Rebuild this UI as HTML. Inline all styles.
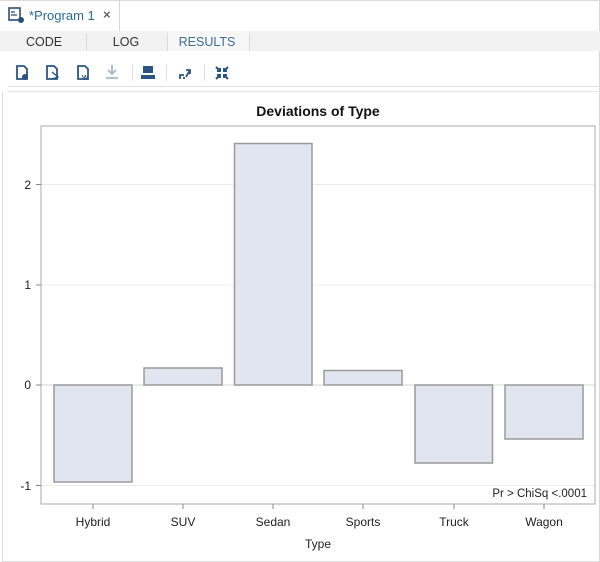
<!DOCTYPE html>
<html><head><meta charset="utf-8"><style>
html,body{margin:0;padding:0;background:#fff;}
svg{display:block;font-family:"Liberation Sans",Arial,sans-serif;}
</style></head><body>
<svg width="600" height="562" viewBox="0 0 600 562" xmlns="http://www.w3.org/2000/svg">
<rect x="0" y="0" width="600" height="562" fill="#fff"/>
<!-- top tab row -->
<line x1="0" y1="0.5" x2="600" y2="0.5" stroke="#dcdcdc"/>
<line x1="119.5" y1="0" x2="119.5" y2="31" stroke="#d6d6d6"/>
<line x1="599.5" y1="0" x2="599.5" y2="562" stroke="#d8d8d8"/>
<!-- tab icon -->
<g fill="none" stroke="#2a4f78" stroke-width="1.6">
<rect x="9" y="8" width="11" height="12"/>
</g>
<circle cx="21" cy="20" r="3" fill="#2a4f78"/>
<path d="M11 12 L15 12 M11 15 L17 15" stroke="#2a4f78" stroke-width="1.2"/>
<text x="29" y="20" font-size="13" fill="#2c6a99">*Program 1</text>
<text x="103" y="19" font-size="13" fill="#666" font-weight="bold">×</text>
<!-- tab bar -->
<rect x="0" y="31" width="600" height="20" fill="#f2f2f2"/>
<rect x="168" y="31" width="81" height="20" fill="#f7f7f7"/>
<line x1="86.5" y1="33" x2="86.5" y2="51" stroke="#dadada"/>
<line x1="167.5" y1="33" x2="167.5" y2="51" stroke="#dadada"/>
<line x1="249.5" y1="33" x2="249.5" y2="51" stroke="#dadada"/>
<text x="44" y="46" font-size="12.5" fill="#333" text-anchor="middle">CODE</text>
<text x="126" y="46" font-size="12.5" fill="#333" text-anchor="middle">LOG</text>
<text x="207" y="46" font-size="12.5" fill="#3d6e96" text-anchor="middle">RESULTS</text>
<!-- toolbar icons -->
<g stroke="#2a5583" stroke-width="1.8" fill="none">
<path d="M17 66 L24 66 L27 69 L27 79 L17 79 Z"/>
<path d="M47 66 L54 66 L57 69 L57 79 L47 79 Z"/>
<path d="M78 66 L85 66 L88 69 L88 79 L78 79 Z"/>
</g>
<circle cx="25" cy="77" r="3" fill="#2a5583"/>
<path d="M52 72 L58 77 L52 79" stroke="#2a5583" stroke-width="1.4" fill="none"/>
<text x="82" y="80" font-size="7" font-weight="bold" fill="#2a5583">W</text>
<g stroke="#a8b8c8" stroke-width="1.8" fill="none">
<path d="M112 65 L112 74 M108 70 L112 74 L116 70 M106 78 L118 78"/>
</g>
<line x1="132.5" y1="65" x2="132.5" y2="81" stroke="#ddd"/>
<rect x="143" y="66" width="10" height="7" fill="#2a5583"/>
<rect x="141" y="75" width="14" height="4" fill="#2a5583"/>
<line x1="166.5" y1="65" x2="166.5" y2="81" stroke="#ddd"/>
<path d="M180 79 L180 75 L184 75 M186 77 L190 70 M186 70 L190 70 L190 74 M184 79 L184 77" stroke="#2a5583" stroke-width="1.8" fill="none"/>
<line x1="204.5" y1="65" x2="204.5" y2="81" stroke="#ddd"/>
<g stroke="#2a5583" stroke-width="2" fill="none">
<path d="M216 67 L220 71 M220 68 L220 71 L217 71 M228 67 L224 71 M224 68 L224 71 L227 71 M216 79 L220 75 M220 78 L220 75 L217 75 M228 79 L224 75 M224 78 L224 75 L227 75"/>
</g>
<!-- separators -->
<line x1="8" y1="86.5" x2="600" y2="86.5" stroke="#e2e2e2"/>
<line x1="8" y1="91.5" x2="600" y2="91.5" stroke="#e2e2e2"/>
<line x1="2.5" y1="92" x2="2.5" y2="561" stroke="#dcdcdc"/>
<line x1="2" y1="561.5" x2="600" y2="561.5" stroke="#dcdcdc"/>
<!-- title -->
<text x="318" y="116" font-size="14" font-weight="bold" fill="#111" text-anchor="middle">Deviations of Type</text>
<!-- grid -->
<g stroke="#ececec" stroke-width="1">
<line x1="41" y1="184.5" x2="595" y2="184.5"/>
<line x1="41" y1="285" x2="595" y2="285"/>
<line x1="41" y1="485.5" x2="595" y2="485.5"/>
</g>
<line x1="41" y1="385" x2="595" y2="385" stroke="#d4d4d4"/>
<!-- bars -->
<g fill="#e0e5ef" stroke="#9a9a9a" stroke-width="1.5">
<rect x="54" y="385" width="78" height="97"/>
<rect x="144" y="368" width="78" height="17"/>
<rect x="234.5" y="143.5" width="77.5" height="241.5"/>
<rect x="324" y="370.5" width="78" height="14.5"/>
<rect x="415" y="385" width="77.5" height="78"/>
<rect x="505" y="385" width="78" height="54"/>
</g>
<!-- frame -->
<rect x="41" y="126" width="554" height="378" fill="none" stroke="#b8b8b8" stroke-width="1.2"/>
<!-- y ticks -->
<g stroke="#888" stroke-width="1">
<line x1="36" y1="184.5" x2="41" y2="184.5"/>
<line x1="36" y1="285" x2="41" y2="285"/>
<line x1="36" y1="385" x2="41" y2="385"/>
<line x1="36" y1="485.5" x2="41" y2="485.5"/>
</g>
<g font-size="12" fill="#222" text-anchor="end">
<text x="31" y="189">2</text>
<text x="31" y="289">1</text>
<text x="31" y="389">0</text>
<text x="31" y="490">-1</text>
</g>
<!-- x ticks -->
<g stroke="#888" stroke-width="1">
<line x1="93" y1="504" x2="93" y2="509"/>
<line x1="183" y1="504" x2="183" y2="509"/>
<line x1="273" y1="504" x2="273" y2="509"/>
<line x1="363" y1="504" x2="363" y2="509"/>
<line x1="454" y1="504" x2="454" y2="509"/>
<line x1="544" y1="504" x2="544" y2="509"/>
</g>
<g font-size="12" fill="#222" text-anchor="middle">
<text x="93" y="526">Hybrid</text>
<text x="183" y="526">SUV</text>
<text x="273" y="526">Sedan</text>
<text x="363" y="526">Sports</text>
<text x="454" y="526">Truck</text>
<text x="544" y="526">Wagon</text>
<text x="318" y="548">Type</text>
</g>
<text x="587" y="497" font-size="11.5" fill="#222" text-anchor="end">Pr &gt; ChiSq  &lt;.0001</text>
</svg>
</body></html>
